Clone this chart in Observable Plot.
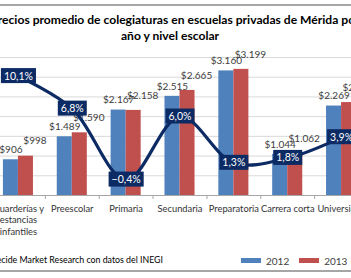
<!DOCTYPE html>
<html><head><meta charset="utf-8">
<script src="https://cdn.jsdelivr.net/npm/d3@7"></script>
<script src="https://cdn.jsdelivr.net/npm/@observablehq/plot@0.6"></script>
<style>
html,body{margin:0;padding:0;background:#fff;}
#wrap{position:relative;width:351px;height:278px;overflow:hidden;font-family:Lato,"Open Sans",sans-serif;background:#fff}
#frame{position:absolute;left:-20px;width:400px;top:4px;height:268px;border-top:2px solid #a6a6a6;border-bottom:2px solid #a6a6a6;box-sizing:border-box}
.title{position:absolute;width:500px;text-align:center;font-weight:bold;font-size:12.1px;line-height:16px;color:#000;white-space:nowrap}
#t1{left:-75px;top:12px}
#t2{left:-80px;top:28px}
#chart{position:absolute;left:-40px;top:45px;width:420px;height:200px}
#chart svg{max-width:none !important}
#caption{position:absolute;right:188px;top:254px;font-size:8.8px;color:#000;white-space:nowrap}
#legend{position:absolute;left:241px;top:244px;width:150px;white-space:nowrap}
</style></head><body>
<div id="wrap">
  <div id="frame"></div>
  <div class="title" id="t1">Precios promedio de colegiaturas en escuelas privadas de Mérida por</div>
  <div class="title" id="t2">año y nivel escolar</div>
  <div id="chart"></div>
  <div id="caption">Fuente: Decide Market Research con datos del INEGI</div>
  <div id="legend"></div>
</div>
<script>
const categories = ["Guarderías y\nestancias\ninfantiles", "Preescolar", "Primaria", "Secundaria", "Preparatoria", "Carrera corta", "Universidad"];
const years = ["2012", "2013"];
const values2012 = [906, 1489, 2167, 2515, 3160, 1044, 2269];
const values2013 = [998, 1590, 2158, 2665, 3199, 1062, 2357];
const changePct = [10.1, 6.8, -0.4, 6.0, 1.3, 1.8, 3.9];
const yTicks = [500, 1000, 1500, 2000, 2500, 3000, 3500];
const pctDomain = [-2, 12];

const colors = ["#4f81bd", "#c0504d"];
const navy = "#0c2a63";
const yMax = 3500;
const barW = 0.279;

const loc = d3.formatLocale({decimal: ",", thousands: ".", grouping: [3], currency: ["$", ""]});
const fmtMoney = loc.format("$,.0f");
const fmtPct = loc.format(".1f");

const bars = [];
categories.forEach((c, i) => {
  bars.push({i, year: years[0], value: values2012[i]});
  bars.push({i, year: years[1], value: values2013[i]});
});
const pts = changePct.map((p, i) => ({i, p, yv: (p - pctDomain[0]) / (pctDomain[1] - pctDomain[0]) * yMax}));

const plot = Plot.plot({
  width: 420,
  height: 200,
  marginLeft: 31,
  marginRight: 12,
  marginTop: 12,
  marginBottom: 50,
  style: {fontFamily: "Lato, 'Open Sans', sans-serif", fontSize: "10px", color: "#404040", background: "transparent", overflow: "visible", maxWidth: "none"},
  x: {domain: [-0.5, categories.length - 0.5], axis: null},
  y: {domain: [0, yMax], axis: null},
  color: {domain: years, range: colors},
  marks: [
    Plot.gridY(yTicks, {stroke: "#d9d9d9", strokeOpacity: 1}),
    Plot.rectY(bars, {x1: d => d.year === years[0] ? d.i - barW : d.i, x2: d => d.year === years[0] ? d.i : d.i + barW, y: "value", fill: "year"}),
    Plot.ruleY([0], {stroke: "#a6a6a6"}),
    Plot.axisX(d3.range(-0.5, categories.length, 1), {tickSize: 4, tickFormat: () => "", stroke: "#a6a6a6", label: null}),
    Plot.axisX(d3.range(categories.length), {tickSize: 0, tickPadding: 8, tickFormat: i => categories[i], fontSize: 9.3, fill: "#333", lineHeight: 1.25, label: null}),
    Plot.text(bars.filter(d => d.year === years[0]), {x: d => d.i - barW / 2, y: "value", text: d => fmtMoney(d.value), dy: -10, fill: "#404040", fontSize: 10}),
    Plot.text(bars.filter(d => d.year === years[1]), {x: d => d.i + barW / 2, y: "value", text: d => fmtMoney(d.value), dx: 9, dy: -15, fill: "#404040", fontSize: 10}),
    Plot.line(pts, {x: "i", y: "yv", stroke: navy, strokeWidth: 3.2, curve: "catmull-rom"}),
    Plot.text(pts, {x: "i", y: "yv", text: d => fmtPct(d.p) + "%", fill: "white", fontSize: 10.5})
  ]
});
document.getElementById("chart").appendChild(plot);

// label boxes behind percentage labels
plot.querySelectorAll("text").forEach(t => {
  const isPct = /%$/.test(t.textContent) && (t.getAttribute("fill") === "white" || t.parentNode.getAttribute("fill") === "white");
  if (isPct) {
    const b = t.getBBox();
    const r = document.createElementNS("http://www.w3.org/2000/svg", "rect");
    r.setAttribute("x", b.x - 3);
    r.setAttribute("y", b.y + b.height / 2 - 7.5);
    r.setAttribute("width", b.width + 6);
    r.setAttribute("height", 15);
    r.setAttribute("fill", navy);
    const tr = t.getAttribute("transform");
    if (tr) r.setAttribute("transform", tr);
    t.parentNode.insertBefore(r, t);
  }
});

const leg = Plot.legend({color: {domain: years, range: colors}, swatchWidth: 20, swatchHeight: 5, style: {fontFamily: "Lato, sans-serif", fontSize: "10px", color: "#404040"}});
document.getElementById("legend").appendChild(leg);
</script>
</body></html>
